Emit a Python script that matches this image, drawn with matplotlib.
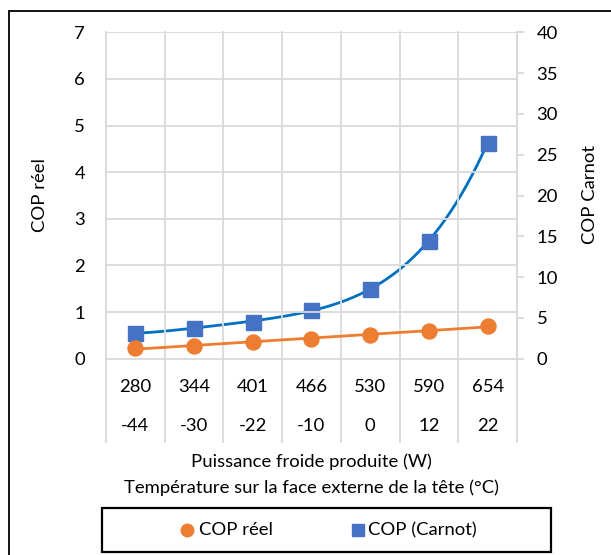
import numpy as np
import matplotlib.pyplot as plt
from matplotlib.patches import Rectangle
import matplotlib.transforms as mtransforms

plt.rcParams['font.family'] = ['Lato', 'DejaVu Sans']

puissance = ['280', '344', '401', '466', '530', '590', '654']
temperature = ['-44', '-30', '-22', '-10', '0', '12', '22']
cop_reel = [0.22, 0.28, 0.36, 0.43, 0.51, 0.60, 0.70]
cop_carnot = [3.1, 3.81, 4.52, 5.95, 8.53, 14.46, 26.46]

orange = '#ED7D31'
blue_mk = '#4472C4'
blue_ln = '#0070C0'
grid_c = '#D9D9D9'
fs = 13.3

W, H = 611, 555
fig = plt.figure(figsize=(W / 100, H / 100), dpi=100)

# chart border
fig.patches.append(Rectangle((9 / W, -0.1), 1.2, 1 - 11 / H + 0.1, transform=fig.transFigure,
                             fill=False, edgecolor='black', linewidth=1.3))

x0, x1 = 106, 517
ytop, ybot = 32.3, 358.7
ax = fig.add_axes([x0 / W, (H - ybot) / H, (x1 - x0) / W, (ybot - ytop) / H])
ax2 = ax.twinx()

n = len(puissance)
xs = np.arange(n)
ax.set_xlim(-0.5, n - 0.5)
ax.set_ylim(0, 7)
ax2.set_ylim(0, 40)

for a in (ax, ax2):
    for s in a.spines.values():
        s.set_visible(False)
ax.set_yticks(range(8))
ax.tick_params(axis='y', length=0, pad=15, labelsize=fs)
ax.set_xticks([])
for v in range(1, 8):
    ax.axhline(v, color=grid_c, lw=1.3, zorder=0)
ax.axhline(0, color=grid_c, lw=1.3, zorder=1, clip_on=False)

# category separators extend into the label area
trans = mtransforms.blended_transform_factory(ax.transData, ax.transAxes)
ybottom_ax = (ybot - 441.5) / (ybot - ytop)
for b in np.arange(-0.5, n, 1.0):
    ax.plot([b, b], [ybottom_ax, 1], transform=trans, color=grid_c, lw=1.3,
            clip_on=False, zorder=0)

lab1_y = (ybot - 387) / (ybot - ytop)
lab2_y = (ybot - 426) / (ybot - ytop)
for i in range(n):
    ax.text(xs[i], lab1_y, puissance[i], transform=trans, ha='center', va='center', fontsize=fs)
    ax.text(xs[i], lab2_y, temperature[i], transform=trans, ha='center', va='center', fontsize=fs)

ax2.spines['right'].set_visible(True)
ax2.spines['right'].set_color(grid_c)
ax2.spines['right'].set_linewidth(1.3)
ax2.set_yticks(range(0, 45, 5))
ax2.tick_params(axis='y', length=5, width=1.3, color=grid_c, pad=9, labelsize=fs)

# trendlines
xx = np.linspace(0, n - 1, 200)
lin = np.polyfit(xs, cop_reel, 1)
ax.plot(xx, np.polyval(lin, xx), color=orange, lw=2, zorder=3)
poly = np.polyfit(xs, cop_carnot, 4)
ax2.plot(xx, np.polyval(poly, xx), color=blue_ln, lw=2, zorder=3)

ax.plot(xs, cop_reel, 'o', color=orange, ms=10.8, zorder=4)
ax2.plot(xs, cop_carnot, 's', color=blue_mk, ms=10.8, zorder=4)

ax.set_zorder(ax2.get_zorder() + 1)
ax.patch.set_visible(False)

fig.text(40 / W, 1 - 195 / H, 'COP réel', rotation=90, ha='center', va='center', fontsize=fs)
fig.text(590 / W, 1 - 195 / H, 'COP Carnot', rotation=90, ha='center', va='center', fontsize=fs)
fig.text(311 / W, 1 - 462 / H, 'Puissance froide produite (W)', ha='center', va='center', fontsize=fs)
fig.text(311 / W, 1 - 488 / H, 'Température sur la face externe de la tête (°C)',
         ha='center', va='center', fontsize=fs)

# legend box
fig.patches.append(Rectangle((102 / W, 1 - 551.5 / H), 448.5 / W, 44 / H, transform=fig.transFigure,
                             fill=False, edgecolor='black', linewidth=1.6))
ly = 1 - 530 / H
fig.lines.append(plt.Line2D([186.7 / W], [ly], marker='o', color=orange, ms=9,
                            transform=fig.transFigure))
fig.text(199 / W, ly, 'COP réel', ha='left', va='center', fontsize=fs)
fig.lines.append(plt.Line2D([358 / W], [ly], marker='s', color=blue_mk, ms=8.5,
                            transform=fig.transFigure))
fig.text(368 / W, ly, 'COP (Carnot)', ha='left', va='center', fontsize=fs)

fig.savefig('out.png', dpi=100)
